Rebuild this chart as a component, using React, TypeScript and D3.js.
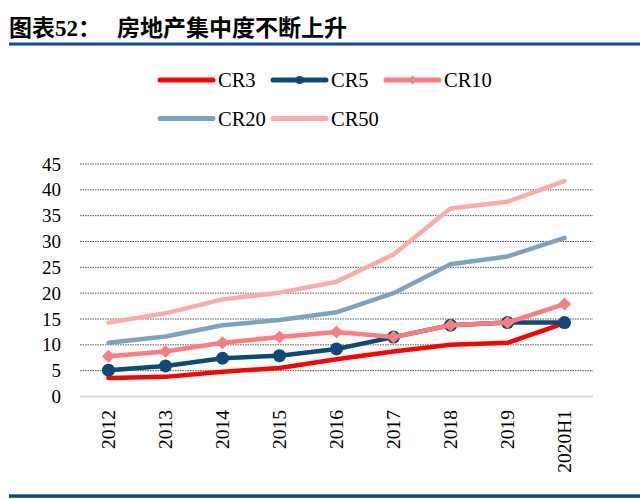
import React from "react";
import * as d3 from "d3";

const categories = ["2012", "2013", "2014", "2015", "2016", "2017", "2018", "2019", "2020H1"];
const cr3 = [3.6, 3.8, 4.8, 5.5, 7.2, 8.7, 10.0, 10.4, 14.2];
const cr5 = [5.1, 5.9, 7.4, 7.9, 9.2, 11.5, 13.8, 14.3, 14.3];
const cr10 = [7.8, 8.7, 10.4, 11.5, 12.5, 11.5, 13.8, 14.3, 17.9];
const cr20 = [10.4, 11.6, 13.8, 14.8, 16.3, 20.0, 25.6, 27.1, 30.7];
const cr50 = [14.3, 16.1, 18.8, 20.1, 22.2, 27.5, 36.4, 37.7, 41.7];
const yTicks = [0, 5, 10, 15, 20, 25, 30, 35, 40, 45];

type Series = { name: string; values: number[]; color: string; marker: "none" | "circle" | "diamond" };
const series: Series[] = [
  { name: "CR3", values: cr3, color: "#ff0000", marker: "none" },
  { name: "CR5", values: cr5, color: "#0d4a7a", marker: "circle" },
  { name: "CR10", values: cr10, color: "#ff7c80", marker: "diamond" },
  { name: "CR20", values: cr20, color: "#7fa3be", marker: "none" },
  { name: "CR50", values: cr50, color: "#ffabab", marker: "none" },
];

const serif = "'Liberation Serif', 'Times New Roman', serif";
const cjk = "'Noto Sans CJK SC', sans-serif";

function Marker({ type, x, y, color, r }: { type: string; x: number; y: number; color: string; r: number }) {
  if (type === "circle") return <circle cx={x} cy={y} r={r} fill={color} />;
  if (type === "diamond")
    return (
      <path
        d={`M${x},${y - r}L${x + r},${y}L${x},${y + r}L${x - r},${y}Z`}
        fill={color}
      />
    );
  return null;
}

export default function App() {
  const W = 640, H = 499;
  const x = d3.scaleBand<string>().domain(categories).range([80, 593]);
  const y = d3.scaleLinear().domain([0, 45]).range([396.5, 164]);
  const cx = (c: string) => (x(c) as number) + x.bandwidth() / 2;
  const line = d3
    .line<number>()
    .x((_, i) => cx(categories[i]))
    .y((d) => y(d));

  const legendPos = [
    { x: 160, y: 80 },
    { x: 273, y: 80 },
    { x: 386, y: 80 },
    { x: 160, y: 118.5 },
    { x: 273, y: 118.5 },
  ];

  return (
    <svg
      width={W}
      height={H}
      style={{ position: "absolute", left: 0, top: 0, background: "#fff" }}
    >
      <rect x={0} y={0} width={W} height={H} fill="#fff" />
      {/* Title */}
      <text x={9} y={36} fontSize={23} fontWeight="bold" fill="#000">
        <tspan fontFamily={cjk}>图表</tspan>
        <tspan fontFamily={serif}>52</tspan>
        <tspan fontFamily={cjk}>：</tspan>
        <tspan x={117} fontFamily={cjk}>房地产集中度不断上升</tspan>
      </text>
      <rect x={9} y={42.5} width={631} height={2.5} fill="#1d4f86" />
      <rect x={9} y={45} width={631} height={1} fill="#6d9bd0" />

      {/* Legend */}
      {series.map((s, i) => {
        const p = legendPos[i];
        return (
          <g key={s.name}>
            <line
              x1={p.x}
              x2={p.x + 53}
              y1={p.y}
              y2={p.y}
              stroke={s.color}
              strokeWidth={5}
              strokeLinecap="round"
            />
            <Marker type={s.marker} x={p.x + 26.5} y={p.y} color={s.color} r={s.marker === "circle" ? 4 : 4.5} />
            <text x={p.x + 58} y={p.y + 7} fontFamily={serif} fontSize={20.5} fill="#000">
              {s.name}
            </text>
          </g>
        );
      })}

      {/* Gridlines */}
      {yTicks.filter((t) => t > 0).map((t) => (
        <line
          key={t}
          x1={80}
          x2={593}
          y1={y(t)}
          y2={y(t)}
          stroke="#555"
          strokeWidth={1}
          strokeDasharray="1.5,1"
        />
      ))}
      <line x1={80} x2={593} y1={y(0)} y2={y(0)} stroke="#d9d9d9" strokeWidth={2} />

      {/* Y ticks */}
      {yTicks.map((t) => (
        <text
          key={t}
          x={61}
          y={y(t)}
          dy="0.35em"
          textAnchor="end"
          fontFamily={serif}
          fontSize={19}
          fill="#000"
        >
          {t}
        </text>
      ))}

      {/* X ticks */}
      {categories.map((c) => (
        <text
          key={c}
          transform={`translate(${cx(c)},410) rotate(-90)`}
          textAnchor="end"
          dy="0.35em"
          fontFamily={serif}
          fontSize={19.5}
          fill="#000"
        >
          {c}
        </text>
      ))}

      {/* Series */}
      {series.map((s) => (
        <g key={s.name}>
          <path
            d={line(s.values) || ""}
            fill="none"
            stroke={s.color}
            strokeWidth={4.5}
            strokeLinejoin="round"
            strokeLinecap="round"
          />
          {s.values.map((v, i) => (
            <Marker
              key={i}
              type={s.marker}
              x={cx(categories[i])}
              y={y(v)}
              color={s.color}
              r={6.5}
            />
          ))}
        </g>
      ))}

      {/* Bottom bar */}
      <rect x={9} y={494.3} width={631} height={3.5} fill="#0d4a7a" />
    </svg>
  );
}
